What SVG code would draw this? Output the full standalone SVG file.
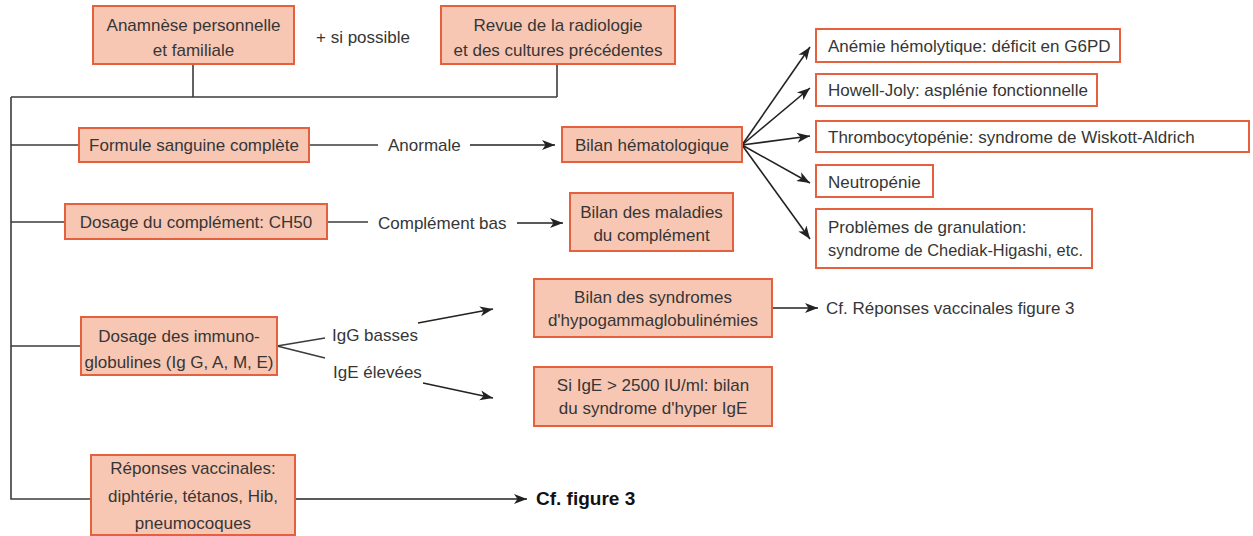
<svg xmlns="http://www.w3.org/2000/svg" width="1253" height="536" viewBox="0 0 1253 536">
<defs>
<marker id="arr" markerUnits="userSpaceOnUse" markerWidth="14" markerHeight="12" refX="13" refY="6" orient="auto">
<path d="M0,1 L13,6 L0,11 L3.5,6 Z" fill="#222"/>
</marker>
<style>
text{font-family:"Liberation Sans",Arial,sans-serif;font-size:17px;fill:#363636}
.c{text-anchor:middle}
.b{font-weight:bold;fill:#111;font-size:19px}
.n{fill:#f8c7b3;stroke:#e5603d;stroke-width:2}
.w{fill:#ffffff;stroke:#e5603d;stroke-width:2}
.ln{fill:none;stroke:#3c3c3c;stroke-width:1.6}
.ar{fill:none;stroke:#222;stroke-width:1.6;marker-end:url(#arr)}
</style>
</defs>
<rect width="1253" height="536" fill="#ffffff"/>
<g id="connectors">
<path class="ln" d="M193,64 V97 M557,64 V97 M11,97 H557 M11,97 V499 H91"/>
<path class="ln" d="M11,145 H79 M309,145 H378"/>
<path class="ar" d="M470,145 H555"/>
<path class="ln" d="M11,222 H65 M327,222 H368"/>
<path class="ar" d="M517,223 H563"/>
<path class="ln" d="M11,346 H81 M277,346 L325,338 M277,346 L325,358"/>
<path class="ar" d="M418,323 L493,309"/>
<path class="ar" d="M423,383 L493,398"/>
<path class="ar" d="M772,308 H818"/>
<path class="ar" d="M295,499 H527"/>
<path class="ar" d="M742,145 L810,47"/>
<path class="ar" d="M742,145 L810,88"/>
<path class="ar" d="M742,145 L810,136"/>
<path class="ar" d="M742,145 L810,183"/>
<path class="ar" d="M742,145 L810,239"/>
</g>
<g id="anamnese"><rect class="n" x="93" y="6" width="201" height="58"/><text class="c" x="193.5" y="31">Anamnèse personnelle</text><text class="c" x="193.5" y="56">et familiale</text></g>
<g id="si-possible"><text x="316" y="43">+ si possible</text></g>
<g id="revue"><rect class="n" x="441" y="6" width="234" height="58"/><text class="c" x="558" y="31">Revue de la radiologie</text><text class="c" x="558" y="56">et des cultures précédentes</text></g>
<g id="formule"><rect class="n" x="79" y="128" width="230" height="34"/><text class="c" x="194" y="151">Formule sanguine complète</text></g>
<g id="anormale"><text x="388" y="151">Anormale</text></g>
<g id="bilan-hemato"><rect class="n" x="562" y="127" width="180" height="35"/><text class="c" x="652" y="151">Bilan hématologique</text></g>
<g id="anemie"><rect class="w" x="816" y="29" width="304" height="33"/><text x="828" y="52">Anémie hémolytique: déficit en G6PD</text></g>
<g id="howell"><rect class="w" x="816" y="74" width="281" height="32"/><text x="828" y="96">Howell-Joly: asplénie fonctionnelle</text></g>
<g id="thrombo"><rect class="w" x="816" y="121" width="433" height="31"/><text x="828" y="143">Thrombocytopénie: syndrome de Wiskott-Aldrich</text></g>
<g id="neutro"><rect class="w" x="816" y="165" width="117" height="32"/><text x="828" y="188">Neutropénie</text></g>
<g id="granulation"><rect class="w" x="816" y="209" width="276" height="59"/><text x="828" y="233">Problèmes de granulation:</text><text x="828" y="256" textLength="255" lengthAdjust="spacingAndGlyphs">syndrome de Chediak-Higashi, etc.</text></g>
<g id="complement"><rect class="n" x="65" y="204" width="262" height="35"/><text class="c" x="196" y="228">Dosage du complément: CH50</text></g>
<g id="complement-bas"><text x="378" y="229">Complément bas</text></g>
<g id="bilan-complement"><rect class="n" x="570" y="193" width="163" height="58"/><text class="c" x="651.5" y="218">Bilan des maladies</text><text class="c" x="651.5" y="241">du complément</text></g>
<g id="immuno"><rect class="n" x="81" y="317" width="196" height="58"/><text class="c" x="179" y="342">Dosage des immuno-</text><text class="c" x="179" y="368">globulines (Ig G, A, M, E)</text></g>
<g id="igg"><text x="332" y="341">IgG basses</text></g>
<g id="ige"><text x="333" y="378">IgE élevées</text></g>
<g id="hypogamma"><rect class="n" x="534" y="279" width="238" height="58"/><text class="c" x="653" y="303">Bilan des syndromes</text><text class="c" x="653" y="326">d'hypogammaglobulinémies</text></g>
<g id="cf-reponses"><text x="826" y="314">Cf. Réponses vaccinales figure 3</text></g>
<g id="hyper-ige"><rect class="n" x="534" y="367" width="238" height="59"/><text class="c" x="653" y="391">Si IgE &gt; 2500 IU/ml: bilan</text><text class="c" x="653" y="414">du syndrome d'hyper IgE</text></g>
<g id="vaccinales"><rect class="n" x="91" y="455" width="204" height="80"/><text class="c" x="193" y="474">Réponses vaccinales:</text><text class="c" x="193" y="502">diphtérie, tétanos, Hib,</text><text class="c" x="193" y="529">pneumocoques</text></g>
<g id="cf-figure"><text class="b" x="536" y="505">Cf. figure 3</text></g>
</svg>
